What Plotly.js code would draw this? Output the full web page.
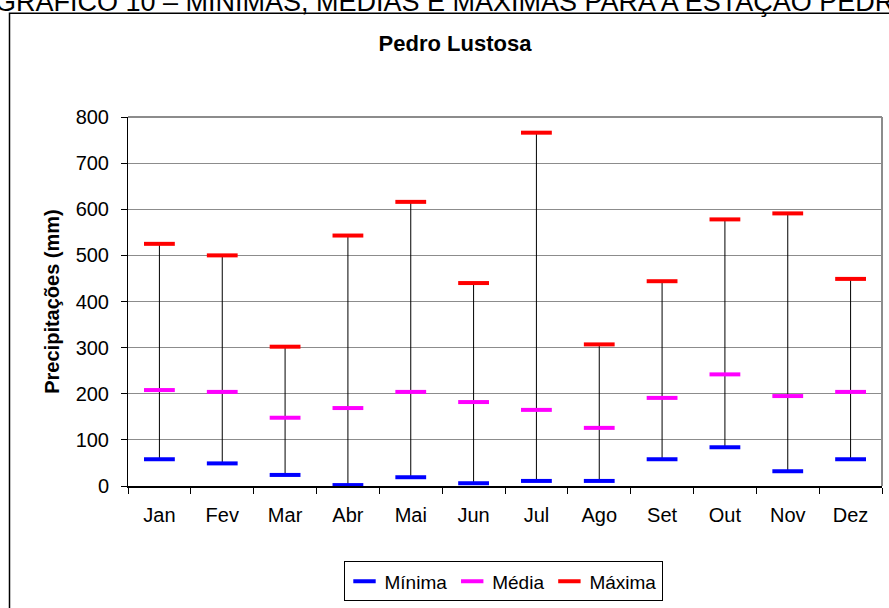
<!DOCTYPE html>
<html>
<head>
<meta charset="utf-8">
<script src="https://cdn.plot.ly/plotly-3.0.1.min.js"></script>
<style>html,body{margin:0;padding:0;background:#fff;}#chart{width:889px;height:608px;}</style>
</head>
<body>
<div id="chart"></div>
<script>
var months = ["Jan","Fev","Mar","Abr","Mai","Jun","Jul","Ago","Set","Out","Nov","Dez"];
var minima = [58, 49, 24, 2, 19, 6, 11, 11, 58, 84, 32, 58];
var media  = [208, 204, 148, 169, 204, 182, 165, 126, 191, 242, 195, 204];
var maxima = [525, 500, 302, 543, 616, 440, 766, 307, 444, 578, 591, 449];
var yTicks = [0, 100, 200, 300, 400, 500, 600, 700, 800];

var FONT = "Liberation Sans, Arial, sans-serif";

// vertical range lines built from the data
var vx = [], vy = [];
for (var i = 0; i < months.length; i++) {
  vx.push(months[i], months[i], null);
  vy.push(minima[i], maxima[i], null);
}

function dashTrace(name, vals, color) {
  return {
    type: "scatter", mode: "markers", name: name, x: months, y: vals,
    marker: {symbol: "line-ew", size: 22, color: color, line: {color: color, width: 4}},
    hoverinfo: "y"
  };
}

var traces = [
  {type: "scatter", mode: "lines", x: vx, y: vy, showlegend: false,
   line: {color: "#000000", width: 1}, hoverinfo: "skip"},
  dashTrace("Mínima", minima, "#0000ff"),
  dashTrace("Média", media, "#ff00ff"),
  dashTrace("Máxima", maxima, "#ff0000")
];

var layout = {
  width: 889, height: 608,
  margin: {l: 128, r: 7, t: 117, b: 119, pad: 0},
  paper_bgcolor: "#ffffff", plot_bgcolor: "#ffffff",
  font: {family: FONT, size: 20, color: "#000000"},
  title: {text: "<b>Pedro Lustosa</b>", font: {family: FONT, size: 22, color: "#000"},
          xref: "container", x: 455/889, xanchor: "center",
          yref: "container", y: 1 - 43/608, yanchor: "middle"},
  showlegend: true,
  legend: {orientation: "h", x: (503-128)/754, xanchor: "center", y: (489-565)/372, yanchor: "top",
           bordercolor: "#000000", borderwidth: 1, bgcolor: "#ffffff",
           font: {family: FONT, size: 19}, itemwidth: 30, tracegroupgap: 0},
  xaxis: {type: "category", range: [-0.5, 11.5], fixedrange: true,
          showline: true, linecolor: "#000000", linewidth: 2,
          ticks: "outside", tickson: "boundaries", ticklen: 6, tickcolor: "#000000", tickwidth: 1,
          showgrid: false, zeroline: false, ticklabelstandoff: 10,
          tickfont: {family: FONT, size: 20}},
  yaxis: {range: [0, 800], tickvals: yTicks, ticktext: yTicks.map(String), fixedrange: true,
          showline: true, linecolor: "#000000", linewidth: 1,
          ticks: "outside", ticklen: 6, tickcolor: "#000000",
          showgrid: true, gridcolor: "#8c8c8c", gridwidth: 1, zeroline: false,
          ticklabelstandoff: 8, tickfont: {family: FONT, size: 20},
          title: {text: "<b>Precipitações (mm)</b>", font: {family: FONT, size: 20}, standoff: 10}},
  shapes: [
    {type: "line", xref: "paper", yref: "paper", x0: 1, x1: 1, y0: 0, y1: 1,
     line: {color: "#8c8c8c", width: 2}},
    {type: "line", xref: "paper", yref: "paper", x0: 0, x1: 1, y0: 1, y1: 1,
     line: {color: "#8c8c8c", width: 2}},
    {type: "rect", xref: "paper", yref: "paper",
     x0: (9.5-128)/754, x1: 1.1, y0: (489-12.5)/372, y1: -0.4,
     line: {color: "#000000", width: 1.5}, fillcolor: "rgba(0,0,0,0)", layer: "below"}
  ],
  annotations: [
    {text: "GRÁFICO 10 – MÍNIMAS, MÉDIAS E MÁXIMAS PARA A ESTAÇÃO PEDRO LUSTOSA",
     xref: "paper", yref: "paper", x: (-7-128)/754, xanchor: "left",
     y: (489-18.5)/372, yanchor: "bottom", showarrow: false,
     font: {family: FONT, size: 27, color: "#000000"}}
  ]
};

Plotly.newPlot("chart", traces, layout, {displayModeBar: false, staticPlot: true});
</script>
</body>
</html>
